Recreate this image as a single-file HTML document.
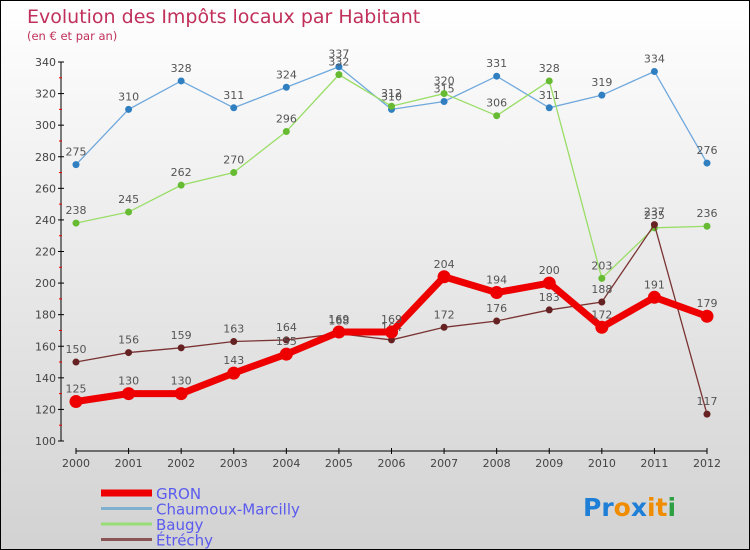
<!DOCTYPE html>
<html><head><meta charset="utf-8"><style>
body{margin:0}
#c{width:750px;height:550px;position:relative;overflow:hidden;box-sizing:border-box;border:1px solid #000;background:linear-gradient(#ffffff,#d2d2d2);font-family:"DejaVu Sans","Liberation Sans",sans-serif}
text{font-family:"DejaVu Sans","Liberation Sans",sans-serif}
</style></head><body>
<div id="c">
<svg id="s" width="750" height="550">
<text x="26" y="22" font-size="19" fill="#c0305a">Evolution des Impôts locaux par Habitant</text>
<text x="26" y="39" font-size="11.5" fill="#c0305a">(en € et par an)</text>
</svg>
</div>
<script>
const years=["2000","2001","2002","2003","2004","2005","2006","2007","2008","2009","2010","2011","2012"];
const gron=[125,130,130,143,155,169,169,204,194,200,172,191,179];
const chaumoux=[275,310,328,311,324,337,310,315,331,311,319,334,276];
const baugy=[238,245,262,270,296,332,312,320,306,328,203,235,236];
const etrechy=[150,156,159,163,164,168,164,172,176,183,188,237,117];
const yTicks=[100,120,140,160,180,200,220,240,260,280,300,320,340];
const NS="http://www.w3.org/2000/svg";
const svg=document.getElementById('s');
const x=i=>75+i*(706-75)/12;
const y=v=>440-(v-100)*(440-61)/240;
function mk(t,a,p){const e=document.createElementNS(NS,t);for(const k in a)e.setAttribute(k,a[k]);(p||svg).appendChild(e);return e;}
// y axis
let ax=mk('line',{x1:60,y1:61,x2:60,y2:440,stroke:'#000'});


yTicks.forEach((v,i)=>{
  mk('line',{x1:57,y1:y(v),x2:63,y2:y(v),stroke:'#000'});
  const t=mk('text',{x:55,y:y(v)+4,'font-size':11,'text-anchor':'end',fill:'#444'});t.textContent=v;
  
  
  if(i<yTicks.length-1)mk('line',{x1:58,y1:y(v+10),x2:61,y2:y(v+10),stroke:'#e00'});
});
let xa=mk('line',{x1:75,y1:450,x2:706,y2:450,stroke:'#000'});


years.forEach((yr,i)=>{
  mk('line',{x1:x(i),y1:447,x2:x(i),y2:453,stroke:'#000'});
  const t=mk('text',{x:x(i),y:466,'font-size':11,'text-anchor':'middle',fill:'#444'});t.textContent=yr;
  
  
});
function series(data,color,dot,w,r,name){
  const g=mk('g',{});
  
  
  mk('polyline',{points:data.map((v,i)=>x(i)+','+y(v)).join(' '),fill:'none',stroke:color,'stroke-width':w},g);
  data.forEach((v,i)=>{
    const c=mk('circle',{cx:x(i),cy:y(v),r:r,fill:dot},g);
    
    
    const t=mk('text',{x:x(i),y:y(v)-9,'font-size':11,'text-anchor':'middle',fill:'#555'},g);t.textContent=v;
    
    
  });
}
series(chaumoux,'#6fa8dc','#2f7fc1',1.3,3.5,'chaumoux');
series(baugy,'#99dd66','#66bb33',1.3,3.5,'baugy');
series(etrechy,'#7a3333','#662222',1.3,3.5,'etrechy');
series(gron,'#ee0000','#ee0000',7,6.5,'gron');
// legend
const leg=[['GRON','#ee0000',7],['Chaumoux-Marcilly','#7fb0d0',3],['Baugy','#99dd77',3],['Étréchy','#8a5555',3]];
leg.forEach((l,i)=>{
  const g=mk('g',{});
  
  
  const ly=492+i*15.5;
  mk('line',{x1:100,y1:ly,x2:151,y2:ly,stroke:l[1],'stroke-width':l[2]},g);
  const t=mk('text',{x:155,y:ly+6,'font-size':15,fill:'#5a5aee'},g);t.textContent=l[0];
});
// logo
const lg=mk('text',{x:582,y:515,'font-size':25,'font-weight':'bold'});


[['Pr','#1f7fd6'],['o','#f08c00'],['x','#1f7fd6'],['it','#f08c00'],['i','#2ea043']].forEach(p=>{const s=mk('tspan',{fill:p[1]},lg);s.textContent=p[0];});
</script>
</body></html>
